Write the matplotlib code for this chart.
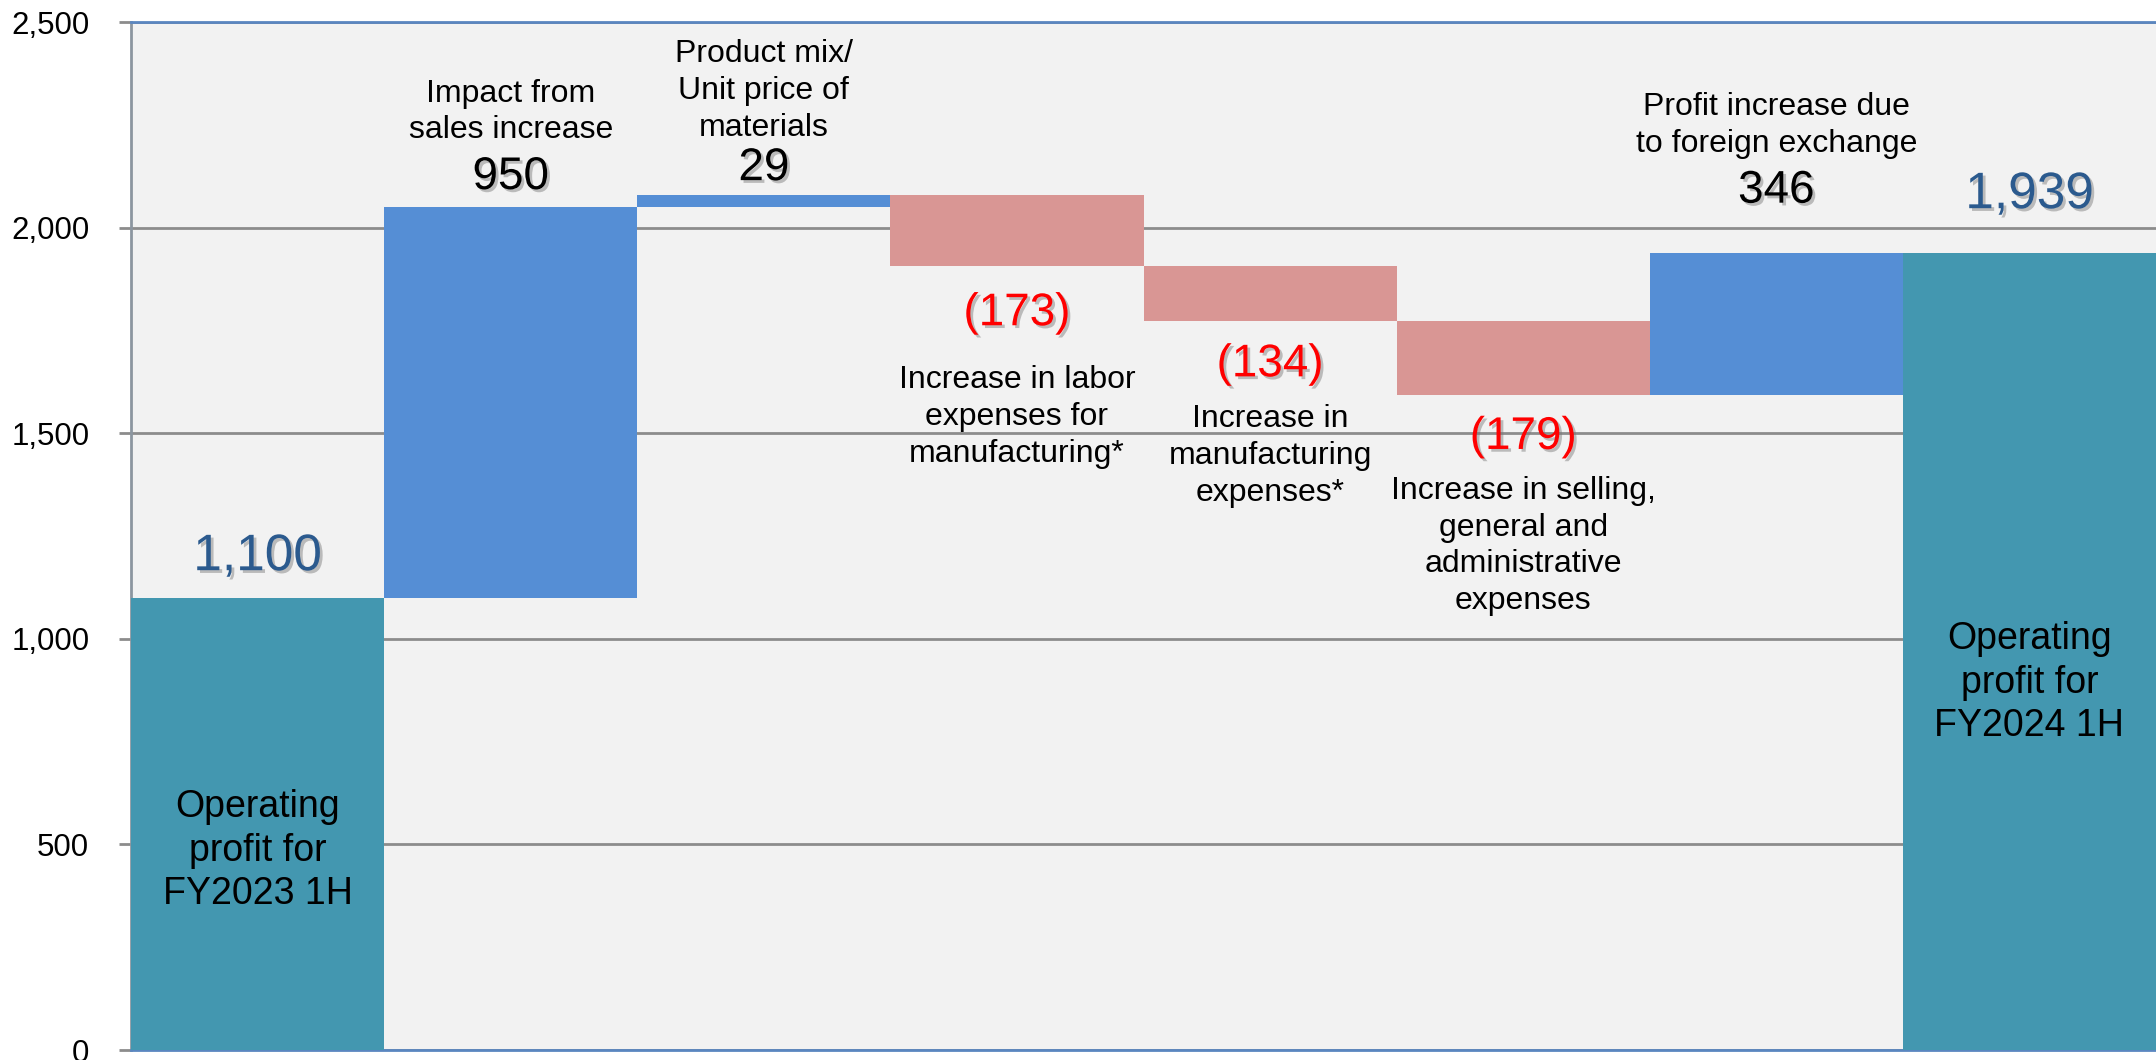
import numpy as np
import matplotlib
matplotlib.use('Agg')
import matplotlib.pyplot as plt
import matplotlib.patheffects as pe


# operating profit bridge, FY2023 1H -> FY2024 1H
start_value = 1100
step_labels = [
    'Impact from\nsales increase',
    'Product mix/\nUnit price of\nmaterials',
    'Increase in labor\nexpenses for\nmanufacturing*',
    'Increase in\nmanufacturing\nexpenses*',
    'Increase in selling,\ngeneral and\nadministrative\nexpenses',
    'Profit increase due\nto foreign exchange',
]
step_values = [950, 29, -173, -134, -179, 346]
start_label = 'Operating\nprofit for\nFY2023 1H'
end_label = 'Operating\nprofit for\nFY2024 1H'
y_ticks = [0, 500, 1000, 1500, 2000, 2500]

TEAL = '#4397B0'
BLUE = '#558ED5'
PINK = '#D99694'
TOTAL_TXT = '#2B5A8E'

# vertical offsets (pixels) of the value / caption text from each step's running total
VALUE_OFFSETS = [41, 30, 27, -47, -43, -42, 62, 58]
CAPTION_OFFSETS = [-253, 95, 104, -151, -135, -151, 127, -430]

plt.rcParams['font.family'] = ['Liberation Sans']


def shadowed():
    return [pe.SimplePatchShadow(offset=(2, -2), shadow_rgbFace='#777777', alpha=0.45),
            pe.Normal()]


def build_waterfall():
    deltas = np.array(step_values)
    running = start_value + np.cumsum(deltas)
    end_value = running[-1]

    heights = np.concatenate([[start_value], np.abs(deltas), [end_value]])
    bottoms = np.concatenate([[0], np.minimum(running - deltas, running), [0]])
    anchors = np.concatenate([[start_value], running, [end_value]])
    colors = [TEAL] + [BLUE if d > 0 else PINK for d in deltas] + [TEAL]
    x = np.arange(len(heights))

    fig = plt.figure(figsize=(21.56, 10.6), dpi=100)
    ax = fig.add_axes([131 / 2156, 10 / 1060, 1 - 131 / 2156, 1028 / 1060])
    ax.set_facecolor('#F2F2F2')

    ax.bar(x, heights, bottom=bottoms, width=1.0, color=colors, zorder=3)

    ax.set_xlim(-0.5, len(heights) - 0.5)
    ax.set_ylim(0, 2500)
    ax.set_yticks(y_ticks)
    ax.set_yticklabels([f'{v:,}' for v in y_ticks])
    ax.set_xticks([])
    ax.tick_params(axis='y', length=9, width=2, color='#8C8C8C', pad=21,
                   labelsize=22.5, labelcolor='black')
    ax.yaxis.grid(True, color='#8C8C8C', linewidth=2, zorder=1)
    ax.set_axisbelow(True)

    ax.spines['right'].set_visible(False)
    ax.spines['left'].set_color('#8C96A0')
    ax.spines['left'].set_linewidth(2)
    for side in ('top', 'bottom'):
        ax.spines[side].set_color('#5A86C0')
        ax.spines[side].set_linewidth(2)

    last = len(x) - 1

    # value labels
    for i, (xi, anchor) in enumerate(zip(x, anchors)):
        if i in (0, last):
            text, color, size = f'{int(heights[i]):,}', TOTAL_TXT, 37
        else:
            d = deltas[i - 1]
            text = f'{d:,}' if d > 0 else f'({-d:,})'
            color = 'black' if d > 0 else '#FF0000'
            size = 33
        ax.annotate(text, (xi, anchor), xytext=(0, VALUE_OFFSETS[i]),
                    textcoords='offset pixels', ha='center', va='center',
                    fontsize=size, color=color, path_effects=shadowed(), zorder=5)

    # captions
    captions = [start_label] + step_labels + [end_label]
    for i, (xi, anchor) in enumerate(zip(x, anchors)):
        inside = i in (0, last)
        ax.annotate(captions[i], (xi, anchor), xytext=(0, CAPTION_OFFSETS[i]),
                    textcoords='offset pixels', ha='center', va='center',
                    fontsize=27 if inside else 23, color='black',
                    linespacing=1.27 if inside else 1.3, zorder=5)

    fig.savefig('out.png', dpi=100, facecolor='white')


def main():
    build_waterfall()


if __name__ == '__main__':
    main()
